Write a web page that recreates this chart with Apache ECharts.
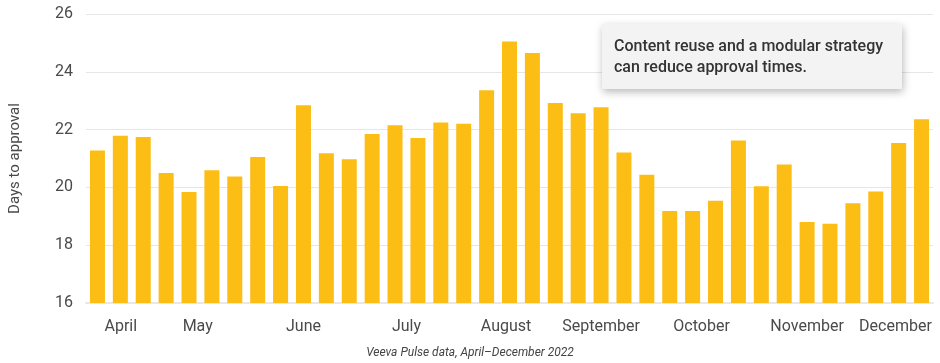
<!DOCTYPE html>
<html>
<head>
<meta charset="utf-8">
<script src="https://cdn.jsdelivr.net/npm/echarts@6/dist/echarts.min.js"></script>
<style>
html,body{margin:0;padding:0;background:#fff;}
#main{width:940px;height:363px;}
</style>
</head>
<body>
<div id="main"></div>
<script>
// Weekly approval times, April–December 2022
const weeks = Array.from({length: 37}, (_, i) => 'W' + (i + 1));
const daysToApproval = [
  21.28, 21.79, 21.74, 20.50, 19.84, 20.59, 20.38, 21.05, 20.05, 22.84,
  21.18, 20.97, 21.85, 22.15, 21.71, 22.25, 22.20, 23.36, 25.05, 24.65,
  22.92, 22.57, 22.77, 21.21, 20.44, 19.18, 19.18, 19.54, 21.62, 20.04,
  20.79, 18.80, 18.74, 19.45, 19.86, 21.54, 22.36
];
const monthLabels = ['April', 'May', 'June', 'July', 'August', 'September', 'October', 'November', 'December'];
const monthPositions = [1.02, 4.38, 9, 13.5, 17.85, 22, 26.39, 31, 34.86];
const yTicks = [16, 18, 20, 22, 24, 26];
const yAxisTitle = 'Days to approval';
const noteText = ['Content reuse and a modular strategy', 'can reduce approval times.'];
const sourceText = 'Veeva Pulse data, April\u2013December 2022';

const chart = echarts.init(document.getElementById('main'), null, {renderer: 'canvas'});
const monthMap = {};
monthPositions.forEach((p, i) => { monthMap[p] = monthLabels[i]; });

chart.setOption({
  animation: false,
  backgroundColor: '#ffffff',
  grid: {left: 81, right: 7, top: 14, bottom: 60, containLabel: false},
  xAxis: [
    {
      type: 'category',
      data: weeks,
      axisLine: {show: true, lineStyle: {color: '#e8e8e8', width: 2}},
      axisTick: {show: false},
      axisLabel: {show: false},
      splitLine: {show: false}
    },
    {
      type: 'value',
      position: 'bottom',
      min: -0.5,
      max: 36.5,
      axisLine: {show: false},
      axisTick: {show: false},
      splitLine: {show: false},
      axisLabel: {
        show: true,
        customValues: monthPositions,
        formatter: v => monthMap[v] || '',
        fontFamily: 'Roboto',
        fontSize: 16,
        color: '#4a4a4a',
        margin: 16,
        hideOverlap: false
      }
    }
  ],
  yAxis: {
    type: 'value',
    min: yTicks[0],
    max: yTicks[yTicks.length - 1],
    interval: 2,
    name: yAxisTitle,
    nameLocation: 'middle',
    nameGap: 63,
    nameTextStyle: {fontFamily: 'Roboto', fontSize: 15, color: '#4a4a4a'},
    axisLine: {show: false},
    axisTick: {show: false},
    axisLabel: {fontFamily: 'Roboto', fontSize: 16, color: '#4a4a4a', margin: 13},
    splitLine: {lineStyle: {color: '#e6e6e6', width: 1}}
  },
  series: [{
    type: 'bar',
    xAxisIndex: 0,
    data: daysToApproval,
    barWidth: 15,
    itemStyle: {color: '#FCBD15'}
  }],
  graphic: [
    {
      type: 'rect',
      left: 602,
      top: 24,
      shape: {width: 300, height: 65},
      style: {fill: '#f3f3f3', shadowBlur: 8, shadowColor: 'rgba(0,0,0,0.28)', shadowOffsetX: 1, shadowOffsetY: 3},
      z: 10
    },
    {
      type: 'text',
      left: 614,
      top: 36,
      style: {
        text: noteText.join('\n'),
        font: '500 16px Roboto',
        fill: '#333333',
        lineHeight: 21
      },
      z: 11
    },
    {
      type: 'text',
      left: 'center',
      top: 347,
      style: {
        text: sourceText,
        font: 'italic 12px Roboto',
        fill: '#444444'
      },
      z: 11
    }
  ]
});
</script>
</body>
</html>
